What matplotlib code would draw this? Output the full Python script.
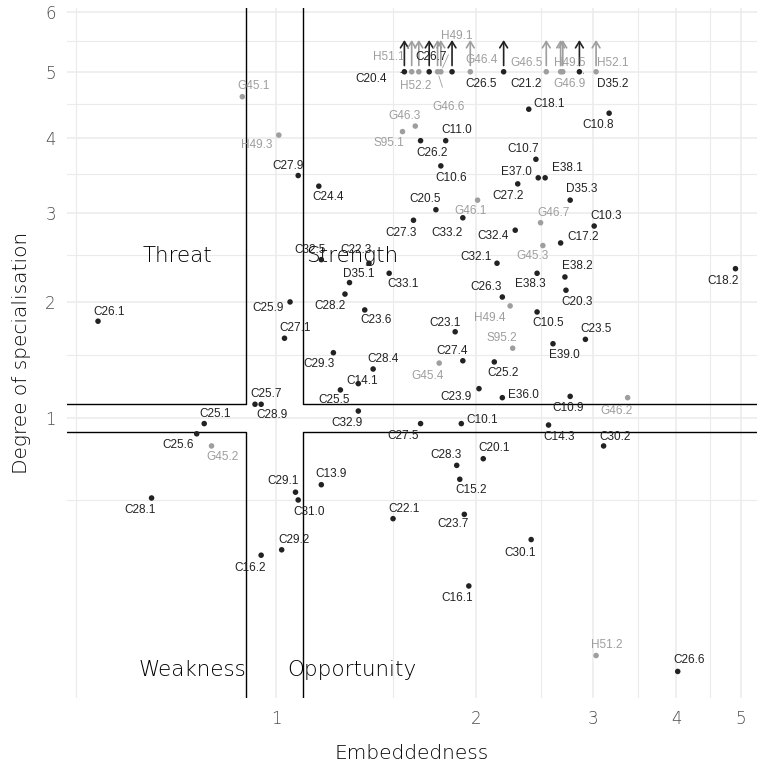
"""Quadrant chart: embeddedness vs degree of specialisation of sectors."""

import matplotlib
matplotlib.use("Agg")
import matplotlib.pyplot as plt
import numpy as np
from matplotlib.ticker import FixedLocator, NullFormatter

DARK_COLOR = "#222222"
GREY_COLOR = "#9E9E9E"
GRID_COLOR = "#EBEBEB"
AXIS_FONT = ["DejaVu Sans"]
AXIS_WEIGHT = "light"

# sector codes, embeddedness (x) and degree of specialisation (y, capped at 5)
NAMES = [
    "C20.4", "H51.1", "H52.2", "C26.7", "G46.6", "H49.1", "C26.5", "G46.4",
    "C21.2", "G46.5", "H49.5", "G46.9", "D35.2", "H52.1",
    "G45.1", "H49.3", "C27.9", "G46.3", "S95.1", "C11.0", "C26.2", "C10.6",
    "C24.4", "C18.1", "C10.8", "C10.7", "E37.0", "E38.1", "C27.2", "D35.3",
    "G46.7", "C10.3", "C32.4", "G45.3", "C17.2", "C32.1", "E38.2", "E38.3",
    "C18.2", "C20.5", "G46.1", "C33.2", "C27.3", "C32.5", "C22.3", "D35.1",
    "C33.1", "C28.2", "C25.9", "C23.6", "C27.1", "C23.1", "C26.3", "H49.4",
    "S95.2", "C10.5", "C20.3", "C23.5", "E39.0", "C29.3", "C28.4", "C27.4",
    "G45.4", "C25.2", "C14.1", "C25.5", "C23.9", "E36.0", "C10.9", "G46.2",
    "C32.9", "C27.5", "C10.1", "C14.3", "C30.2", "C20.1", "C28.3", "C15.2",
    "C22.1", "C23.7", "C30.1", "C16.1", "H51.2", "C26.6", "C26.1", "C25.7",
    "C28.9", "C25.1", "C25.6", "G45.2", "C28.1", "C29.1", "C31.0", "C13.9",
    "C29.2", "C16.2",
]
EMBEDDEDNESS = [
    1.56, 1.60, 1.64, 1.70, 1.75, 1.77, 1.84, 1.96,
    2.20, 2.55, 2.68, 2.70, 2.86, 3.03,
    0.89, 1.01, 1.08, 1.62, 1.55, 1.80, 1.65, 1.77,
    1.16, 2.40, 3.17, 2.46, 2.48, 2.54, 2.31, 2.77,
    2.50, 3.01, 2.29, 2.52, 2.68, 2.15, 2.72, 2.47,
    4.91, 1.74, 2.01, 1.91, 1.61, 1.17, 1.38, 1.29,
    1.48, 1.27, 1.05, 1.36, 1.03, 1.86, 2.19, 2.25,
    2.27, 2.47, 2.73, 2.92, 2.61, 1.22, 1.40, 1.91,
    1.76, 2.13, 1.33, 1.25, 2.02, 2.19, 2.77, 3.38,
    1.33, 1.65, 1.90, 2.57, 3.11, 2.05, 1.87, 1.89,
    1.50, 1.92, 2.42, 1.95, 3.03, 4.02, 0.54, 0.93,
    0.95, 0.78, 0.76, 0.80, 0.65, 1.07, 1.08, 1.17,
    1.02, 0.95,
]
SPECIALISATION = [
    5.0, 5.0, 5.0, 5.0, 5.0, 5.0, 5.0, 5.0,
    5.0, 5.0, 5.0, 5.0, 5.0, 5.0,
    4.61, 4.04, 3.48, 4.17, 4.09, 3.96, 3.96, 3.61,
    3.34, 4.42, 4.36, 3.70, 3.45, 3.45, 3.37, 3.16,
    2.88, 2.84, 2.79, 2.61, 2.64, 2.41, 2.26, 2.30,
    2.35, 3.04, 3.16, 2.94, 2.91, 2.45, 2.41, 2.20,
    2.30, 2.08, 2.00, 1.92, 1.65, 1.71, 2.05, 1.96,
    1.56, 1.90, 2.12, 1.64, 1.60, 1.52, 1.38, 1.45,
    1.43, 1.44, 1.26, 1.21, 1.22, 1.15, 1.16, 1.15,
    1.05, 0.96, 0.96, 0.95, 0.81, 0.73, 0.69, 0.61,
    0.41, 0.43, 0.32, 0.16, 0.023, 0.009, 1.81, 1.10,
    1.10, 0.96, 0.89, 0.81, 0.51, 0.54, 0.50, 0.58,
    0.28, 0.26,
]

QUADRANTS = ["Threat", "Strength", "Weakness", "Opportunity"]
QUADRANT_X = [0.71, 1.30, 0.75, 1.30]
QUADRANT_Y = [2.49, 2.49, 0.01, 0.01]

# label placement (offset in pixels from the point, x right / y up)
LABEL_OFFSETS = {
    "C20.4": (-33, -7), "H51.1": (-23, 15), "H52.2": (-3, -14), "C26.7": (2, 15),
    "G46.6": (11, -35), "H49.1": (16, 36), "C26.5": (29, -12), "G46.4": (11, 12),
    "C21.2": (22, -12), "G46.5": (-20, 9), "H49.5": (9, 9), "G46.9": (7, -12),
    "D35.2": (33, -12), "H52.1": (17, 9),
    "G45.1": (11, 11), "H49.3": (-22, -10), "C27.9": (-10, 10), "G46.3": (-11, 10),
    "S95.1": (-14, -11), "C11.0": (11, 11), "C26.2": (11, -12), "C10.6": (10, -12),
    "C24.4": (9, -11), "C18.1": (20, 5), "C10.8": (-11, -12), "C10.7": (-13, 10),
    "E37.0": (-22, 6), "E38.1": (22, 10), "C27.2": (-10, -12), "D35.3": (12, 11),
    "G46.7": (13, 10), "C10.3": (12, 10), "C32.4": (-22, -6), "G45.3": (-10, -10),
    "C17.2": (22, 6), "C32.1": (-21, 6), "E38.2": (12, 11), "E38.3": (-7, -11),
    "C18.2": (-12, -12), "C20.5": (-11, 11), "G46.1": (-7, -11), "C33.2": (-16, -15),
    "C27.3": (-12, -13), "C32.5": (-11, 10), "C22.3": (-13, 13), "D35.1": (9, 9),
    "C33.1": (14, -11), "C28.2": (-15, -12), "C25.9": (-22, -6), "C23.6": (11, -10),
    "C27.1": (11, 10), "C23.1": (-10, 9), "C26.3": (-16, 10), "H49.4": (-20, -12),
    "S95.2": (-11, 10), "C10.5": (11, -11), "C20.3": (11, -12), "C23.5": (11, 10),
    "E39.0": (11, -11), "C29.3": (-14, -11), "C28.4": (10, 10), "C27.4": (-11, 10),
    "G45.4": (-12, -13), "C25.2": (9, -11), "C14.1": (4, 3), "C25.5": (-6, -10),
    "C23.9": (-23, -8), "E36.0": (21, 3), "C10.9": (-2, -12), "G46.2": (-11, -13),
    "C32.9": (-11, -12), "C27.5": (-17, -12), "C10.1": (21, 4), "C14.3": (11, -12),
    "C30.2": (11, 9), "C20.1": (11, 11), "C28.3": (-11, 10), "C15.2": (11, -11),
    "C22.1": (11, 10), "C23.7": (-11, -10), "C30.1": (-11, -13), "C16.1": (-12, -12),
    "H51.2": (11, 11), "C26.6": (11, 11), "C26.1": (11, 9), "C25.7": (11, 10),
    "C28.9": (11, -11), "C25.1": (11, 10), "C25.6": (-19, -11), "G45.2": (11, -11),
    "C28.1": (-11, -12), "C29.1": (-12, 11), "C31.0": (11, -12), "C13.9": (10, 11),
    "C29.2": (12, 10), "C16.2": (-11, -13),
}

X_LIMITS = (0.485, 5.29)
Y_LIMITS = (0.0, 6.07)
LOW_CUT = 0.9
HIGH_CUT = 1.1
CAP = 5.0


def _colour(name: str) -> str:
    return GREY_COLOR if name[0] in "GHS" else DARK_COLOR


def main() -> None:
    fig = plt.figure(figsize=(7.57, 7.62), dpi=100)
    ax = fig.add_axes([67 / 757, 64 / 762, 690 / 757, 690 / 762])

    ax.set_xscale("log")
    ax.set_yscale(
        "function",
        functions=(lambda v: np.sqrt(np.clip(v, 0, None)), lambda v: np.square(v)),
    )
    ax.set_xlim(*X_LIMITS)
    ax.set_ylim(*Y_LIMITS)

    ax.xaxis.set_major_locator(FixedLocator([1, 2, 3, 4, 5]))
    ax.xaxis.set_minor_locator(FixedLocator([0.5, 1.5, 2.5, 3.5, 4.5]))
    ax.xaxis.set_major_formatter(plt.FuncFormatter(lambda v, _: f"{v:g}"))
    ax.xaxis.set_minor_formatter(NullFormatter())
    ax.yaxis.set_major_locator(FixedLocator([1, 2, 3, 4, 5, 6]))
    ax.yaxis.set_minor_locator(FixedLocator([0.5, 1.5, 2.5, 3.5, 4.5, 5.5]))
    ax.yaxis.set_major_formatter(plt.FuncFormatter(lambda v, _: f"{v:g}"))
    ax.yaxis.set_minor_formatter(NullFormatter())

    ax.grid(which="major", color=GRID_COLOR, linewidth=1.1)
    ax.grid(which="minor", color=GRID_COLOR, linewidth=0.8)
    ax.set_axisbelow(True)
    for spine in ax.spines.values():
        spine.set_visible(False)
    ax.tick_params(which="both", length=0)
    ax.tick_params(axis="x", pad=9, labelsize=12, labelcolor="#4D4D4D")
    ax.tick_params(axis="y", pad=8, labelsize=12, labelcolor="#4D4D4D")
    for lab in ax.get_xticklabels() + ax.get_yticklabels():
        lab.set_family(AXIS_FONT)
        lab.set_weight(AXIS_WEIGHT)

    # quadrant boxes
    x0, x1 = X_LIMITS
    y0, y1 = Y_LIMITS
    box_kw = dict(color="black", linewidth=1.0, zorder=2)
    ax.plot([x0, LOW_CUT, LOW_CUT], [HIGH_CUT, HIGH_CUT, y1], **box_kw)
    ax.plot([x1, HIGH_CUT, HIGH_CUT], [HIGH_CUT, HIGH_CUT, y1], **box_kw)
    ax.plot([x0, LOW_CUT, LOW_CUT], [LOW_CUT, LOW_CUT, y0], **box_kw)
    ax.plot([x1, HIGH_CUT, HIGH_CUT], [LOW_CUT, LOW_CUT, y0], **box_kw)

    for text, qx, qy in zip(QUADRANTS, QUADRANT_X, QUADRANT_Y):
        ax.text(qx, qy, text, ha="center", va="center", fontsize=15.5,
                family=AXIS_FONT, weight=AXIS_WEIGHT, color="black", zorder=3)

    colours = [_colour(n) for n in NAMES]

    # arrows for capped values
    for name, x, y, c in zip(NAMES, EMBEDDEDNESS, SPECIALISATION, colours):
        if y >= CAP:
            ax.annotate(
                "", xy=(x, 5.52), xytext=(x, 5.1),
                arrowprops=dict(arrowstyle="->,head_length=0.45,head_width=0.28",
                                color=c, lw=1.2, shrinkA=0, shrinkB=0),
                zorder=3,
            )

    ax.scatter(EMBEDDEDNESS, SPECIALISATION, s=16, c=colours,
               edgecolors="none", zorder=4)

    for name, x, y, c in zip(NAMES, EMBEDDEDNESS, SPECIALISATION, colours):
        dx, dy = LABEL_OFFSETS[name]
        props = None
        if np.hypot(dx, dy) > 30:
            props = dict(arrowstyle="-", color=c, lw=0.6, shrinkA=8, shrinkB=3)
        ax.annotate(
            name, xy=(x, y), xytext=(dx, dy), textcoords="offset pixels",
            ha="center", va="center", fontsize=8.5, color=c,
            family=["Liberation Sans", "DejaVu Sans"],
            arrowprops=props, zorder=5,
        )

    ax.set_xlabel("Embeddedness", fontsize=14.5, family=AXIS_FONT,
                  weight=AXIS_WEIGHT, color="black", labelpad=11)
    ax.set_ylabel("Degree of specialisation", fontsize=14.5, family=AXIS_FONT,
                  weight=AXIS_WEIGHT, color="black", labelpad=10)

    fig.savefig("out.png", dpi=100)
    plt.close(fig)


if __name__ == "__main__":
    main()
